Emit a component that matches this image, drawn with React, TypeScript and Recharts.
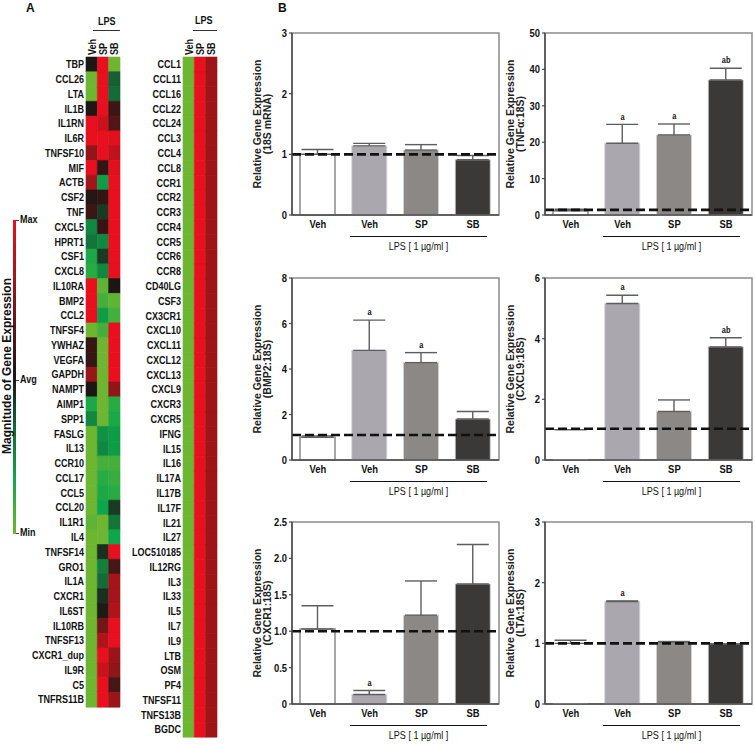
import React from 'react';
import {
  BarChart, Bar, XAxis, YAxis, Cell, ComposedChart, ErrorBar,
  ReferenceLine, ReferenceArea, Line, LabelList, Label,
} from 'recharts';

const SANS = '"Liberation Sans", Arial, Helvetica, sans-serif';
const SQUEEZE = 0.82;

// ---------------- Heatmap data (Min = -1, Avg = 0, Max = 1) ----------------
const heatColumns = ['Veh', 'SP', 'SB'];

const leftGenes = [
  'TBP', 'CCL26', 'LTA', 'IL1B', 'IL1RN', 'IL6R', 'TNFSF10', 'MIF', 'ACTB', 'CSF2',
  'TNF', 'CXCL5', 'HPRT1', 'CSF1', 'CXCL8', 'IL10RA', 'BMP2', 'CCL2', 'TNFSF4', 'YWHAZ',
  'VEGFA', 'GAPDH', 'NAMPT', 'AIMP1', 'SPP1', 'FASLG', 'IL13', 'CCR10', 'CCL17', 'CCL5',
  'CCL20', 'IL1R1', 'IL4', 'TNFSF14', 'GRO1', 'IL1A', 'CXCR1', 'IL6ST', 'IL10RB', 'TNFSF13',
  'CXCR1_dup', 'IL9R', 'C5', 'TNFRS11B',
];
const leftVeh = [
  0, -1, -1, 0.02, 1, 1, 0.55, 1, 0.65, 0.05,
  0.15, -0.5, -0.4, -0.7, -0.75, 1, 1, 1, -1, 0.12,
  0.12, 0.6, 0, -0.7, -0.5, -1, -1, -1, -1, -1,
  -1, -0.95, -1, -1, -1, -1, -1, -1, -1, -1,
  -1, -1, -1, -1,
];
const leftSP = [
  1, 1, 1, 1, 0.85, 1, 1, 0.1, -0.6, 0.1,
  -0.15, 0.12, -0.5, -0.15, -0.5, -0.95, -0.85, -0.6, -0.85, -1,
  -1, -1, -1, -1, -1, -0.55, -0.5, -0.85, -0.75, -0.7,
  -0.65, -1, -1, -0.1, -0.45, -0.35, -0.1, -0.02, 0.4, 0.7,
  1, 0.85, 1, 1,
];
const leftSB = [
  -1, -0.3, -0.35, 0.15, 0.25, 0.95, 0.8, 0.95, 1, 1,
  1, 1, 1, 1, 1, 0, -0.95, -0.85, 1, 1,
  1, 1, 0.55, -0.75, -0.7, -0.6, -0.6, -0.85, -0.8, -0.75,
  -0.15, -0.4, -0.65, 1, 0.2, 0.65, 0.65, 0.7, 1, 1,
  0.6, 0.55, 0.2, 0.6,
];

const rightGenes = [
  'CCL1', 'CCL11', 'CCL16', 'CCL22', 'CCL24', 'CCL3', 'CCL4', 'CCL8', 'CCR1', 'CCR2',
  'CCR3', 'CCR4', 'CCR5', 'CCR6', 'CCR8', 'CD40LG', 'CSF3', 'CX3CR1', 'CXCL10', 'CXCL11',
  'CXCL12', 'CXCL13', 'CXCL9', 'CXCR3', 'CXCR5', 'IFNG', 'IL15', 'IL16', 'IL17A', 'IL17B',
  'IL17F', 'IL21', 'IL27', 'LOC510185', 'IL12RG', 'IL3', 'IL33', 'IL5', 'IL7', 'IL9',
  'LTB', 'OSM', 'PF4', 'TNFSF11', 'TNFS13B', 'BGDC',
];
const rightVeh = [
  -1, -1, -1, -1, -1, -1, -1, -1, -1, -1,
  -1, -1, -1, -1, -1, -1, -1, -1, -1, -1,
  -1, -1, -1, -1, -1, -1, -1, -1, -1, -1,
  -1, -1, -1, -1, -1, -1, -1, -1, -1, -1,
  -1, -1, -1, -1, -1, -1,
];
const rightSP = [
  1, 1, 1, 1, 1, 1, 1, 1, 1, 1,
  1, 1, 1, 1, 1, 1, 1, 1, 1, 1,
  1, 1, 1, 1, 1, 1, 1, 1, 1, 1,
  1, 1, 1, 1, 1, 1, 1, 1, 1, 1,
  1, 1, 1, 1, 1, 1,
];
const rightSB = [
  0.62, 0.62, 0.62, 0.62, 0.62, 0.62, 0.62, 0.62, 0.62, 0.62,
  0.62, 0.62, 0.62, 0.62, 0.62, 0.62, 0.62, 0.62, 0.62, 0.62,
  0.62, 0.62, 0.62, 0.62, 0.62, 0.62, 0.62, 0.62, 0.62, 0.62,
  0.62, 0.62, 0.62, 0.62, 0.62, 0.62, 0.62, 0.62, 0.62, 0.62,
  0.62, 0.62, 0.62, 0.62, 0.62, 0.62,
];

// ---------------- Bar chart data ----------------
const barGroups = ['Veh', 'Veh', 'SP', 'SB'];
const barKeys = ['veh', 'lpsVeh', 'lpsSP', 'lpsSB'];
const barColors = ['#ffffff', '#aba7ae', '#8b8885', '#3b3937'];

const rnaMean = [1.0, 1.14, 1.07, 0.91];
const rnaErr = [0.08, 0.04, 0.09, 0.07];
const rnaSig = ['', '', '', ''];
const rnaBase = 1.0;
const rnaTicks = [0, 1, 2, 3];
const rnaTickLabels = ['0', '1', '2', '3'];

const tnfMean = [1.2, 19.7, 22.0, 37.1];
const tnfErr = [0.4, 5.2, 3.0, 3.2];
const tnfSig = ['', 'a', 'a', 'ab'];
const tnfBase = 1.4;
const tnfTicks = [0, 10, 20, 30, 40, 50];
const tnfTickLabels = ['0', '10', '20', '30', '40', '50'];

const bmpMean = [1.0, 4.82, 4.28, 1.8];
const bmpErr = [0.06, 1.33, 0.44, 0.33];
const bmpSig = ['', 'a', 'a', ''];
const bmpBase = 1.1;
const bmpTicks = [0, 2, 4, 6, 8];
const bmpTickLabels = ['0', '2', '4', '6', '8'];

const cxcl9Mean = [1.0, 5.16, 1.6, 3.73];
const cxcl9Err = [0, 0.27, 0.38, 0.3];
const cxcl9Sig = ['', 'a', '', 'ab'];
const cxcl9Base = 1.03;
const cxcl9Ticks = [0, 2, 4, 6];
const cxcl9TickLabels = ['0', '2', '4', '6'];

const cxcr1Mean = [1.03, 0.13, 1.22, 1.65];
const cxcr1Err = [0.32, 0.055, 0.47, 0.54];
const cxcr1Sig = ['', 'a', '', ''];
const cxcr1Base = 1.0;
const cxcr1Ticks = [0, 0.5, 1.0, 1.5, 2.0, 2.5];
const cxcr1TickLabels = ['0', '0.5', '1.0', '1.5', '2.0', '2.5'];

const ltaMean = [1.0, 1.69, 1.02, 0.99];
const ltaErr = [0.05, 0.01, 0.01, 0.0];
const ltaSig = ['', 'a', '', ''];
const ltaBase = 1.0;
const ltaTicks = [0, 1, 2, 3];
const ltaTickLabels = ['0', '1', '2', '3'];

// ---------------- Colour scale ----------------
const heatStops: [number, number[]][] = [
  [-1, [110, 182, 50]],
  [-0.65, [14, 166, 74]],
  [-0.3, [22, 96, 52]],
  [0, [28, 22, 20]],
  [0.5, [135, 22, 24]],
  [1, [232, 16, 30]],
];
function heatColor(v: number): string {
  for (let i = 0; i < heatStops.length - 1; i++) {
    const [a, ca] = heatStops[i];
    const [b, cb] = heatStops[i + 1];
    if (v >= a && v <= b) {
      const t = (v - a) / (b - a);
      const c = ca.map((x, k) => Math.round(x + (cb[k] - x) * t));
      return `rgb(${c[0]},${c[1]},${c[2]})`;
    }
  }
  return v < 0 ? 'rgb(110,182,50)' : 'rgb(232,16,30)';
}

// condensed SVG text
function CText(props: { x: number; y: number; anchor: string; size: number; dy?: string; children: any; weight?: number }) {
  const { x, y, anchor, size, dy, children, weight } = props;
  return (
    <text
      transform={`translate(${x},${y}) scale(${SQUEEZE},1)`}
      x={0}
      y={0}
      dy={dy || '0.35em'}
      textAnchor={anchor}
      fontFamily={SANS}
      fontWeight={weight === undefined ? 700 : weight}
      fontSize={size}
      fill="#111"
    >
      {children}
    </text>
  );
}

// ---------------- Heatmap ----------------
function ColTick(props: any) {
  const { x, y, payload } = props;
  const label = heatColumns[Math.floor(payload.value)];
  return (
    <text
      transform={`translate(${x},${y}) rotate(-90) scale(${SQUEEZE},1)`}
      x={0}
      y={0}
      dy="0.35em"
      textAnchor="start"
      fontFamily={SANS}
      fontWeight={700}
      fontSize={11}
      fill="#111"
    >
      {label}
    </text>
  );
}

function GeneTick(props: any) {
  const { x, y, payload } = props;
  return <CText x={x} y={y} anchor="end" size={11}>{payload.value}</CText>;
}

function Heatmap(props: {
  genes: string[]; veh: number[]; sp: number[]; sb: number[];
  left: number; labelWidth: number; height: number;
}) {
  const { genes, veh, sp, sb, left, labelWidth, height } = props;
  const data = genes.map((g) => ({ gene: g, cVeh: 1, cSP: 1, cSB: 1 }));
  const vals = [veh, sp, sb];
  const keys = ['cVeh', 'cSP', 'cSB'];
  return (
    <div style={{ position: 'absolute', left, top: 0 }}>
      <BarChart
        layout="vertical"
        width={labelWidth + 34 + 2}
        height={height}
        data={data}
        margin={{ top: 27, right: 2, bottom: 3, left: 0 }}
        barCategoryGap={0}
        barGap={0}
      >
        <XAxis
          type="number"
          orientation="top"
          domain={[0, 3]}
          ticks={[0.5, 1.5, 2.5]}
          interval={0}
          height={30}
          axisLine={false}
          tickLine={false}
          tickSize={0}
          tickMargin={2}
          tick={(p: any) => <ColTick {...p} />}
        />
        <YAxis
          type="category"
          dataKey="gene"
          width={labelWidth}
          interval={0}
          tickLine={false}
          axisLine={false}
          tickSize={0}
          tickMargin={2}
          tick={(p: any) => <GeneTick {...p} />}
        />
        {keys.map((k, j) => (
          <Bar key={k} dataKey={k} stackId="h" isAnimationActive={false}>
            {data.map((_, i) => (
              <Cell key={i} fill={heatColor(vals[j][i])} stroke={heatColor(vals[j][i])} strokeWidth={0.6} />
            ))}
          </Bar>
        ))}
      </BarChart>
    </div>
  );
}

// ---------------- Bar panels ----------------
function GenePanel(props: {
  plotLeft: number; plotTop: number; mean: number[]; err: number[]; sig: string[];
  base: number; ticks: number[]; tickLabels: string[]; yLabel: string; vehStroke: boolean;
}) {
  const { plotLeft, plotTop, mean, err, sig, base, ticks, tickLabels, yLabel, vehStroke } = props;
  const data = barKeys.map((k, i) => ({
    key: k, mean: mean[i], err: [0, err[i]], top: mean[i] + err[i], sig: sig[i],
  }));
  const max = ticks[ticks.length - 1];
  const yCenter = 13 + 91;
  return (
    <div style={{ position: 'absolute', left: plotLeft - 52, top: plotTop - 13, width: 262, height: 250 }}>
      <ComposedChart
        width={262}
        height={215}
        data={data}
        margin={{ top: 13, right: 3, bottom: 0, left: 0 }}
      >
        <ReferenceArea y1={0} y2={max} fill="none" stroke="#8c8c8c" strokeWidth={1.5} ifOverflow="visible" />
        <XAxis
          dataKey="key"
          height={20}
          interval={0}
          tickLine={false}
          tickSize={0}
          tickMargin={5}
          axisLine={{ stroke: '#4a4a4a', strokeWidth: 1.5 }}
          tick={(p: any) => (
            <CText x={p.x} y={p.y} anchor="middle" size={11.5} dy="0.71em">{barGroups[p.index]}</CText>
          )}
        />
        <YAxis
          type="number"
          domain={[0, max]}
          ticks={ticks}
          interval={0}
          width={52}
          tickSize={3}
          tickMargin={2}
          axisLine={{ stroke: '#4a4a4a', strokeWidth: 1.5 }}
          tickLine={{ stroke: '#4a4a4a', strokeWidth: 1.2 }}
          tick={(p: any) => (
            <CText x={p.x} y={p.y} anchor="end" size={11.5}>{tickLabels[ticks.indexOf(p.payload.value)]}</CText>
          )}
        >
          <Label
            content={() => (
              <text
                transform={`rotate(-90 21 ${yCenter})`}
                x={21}
                y={yCenter}
                textAnchor="middle"
                fontFamily={SANS}
                fontWeight={700}
                fontSize={10.5}
                fill="#222"
              >
                <tspan x={21} dy={0}>Relative Gene Expression</tspan>
                <tspan x={21} dy={10}>{yLabel}</tspan>
              </text>
            )}
          />
        </YAxis>
        <Bar dataKey="mean" barSize={35} isAnimationActive={false}>
          {data.map((_, i) => (
            <Cell
              key={i}
              fill={barColors[i]}
              stroke={i === 0 ? (vehStroke ? '#8a8a8a' : 'none') : '#d6d4d6'}
              strokeWidth={i === 0 ? 1.5 : 0.8}
            />
          ))}
          <ErrorBar dataKey="err" width={16} stroke="#5e5e5e" strokeWidth={1.4} direction="y" />
        </Bar>
        <Line dataKey="top" stroke="none" dot={false} activeDot={false} isAnimationActive={false}>
          <LabelList
            dataKey="sig"
            position="top"
            offset={5}
            content={(p: any) =>
              p.value ? (
                <CText x={p.x} y={p.y - 8} anchor="middle" size={9}>{p.value}</CText>
              ) : null
            }
          />
        </Line>
        <ReferenceLine y={base} stroke="#111" strokeWidth={2.6} strokeDasharray="9 4" ifOverflow="visible" />
      </ComposedChart>
      <div
        style={{
          position: 'absolute', left: 52 + 58, top: 13 + 182 + 21, width: 137,
          borderTop: '1.3px solid #111',
        }}
      />
      <div
        style={{
          position: 'absolute', left: 52 + 58, top: 13 + 182 + 25, width: 137,
          textAlign: 'center', fontFamily: SANS, fontSize: 11, color: '#111', lineHeight: '12px',
          transform: `scaleX(${SQUEEZE})`,
        }}
      >
        LPS [ 1 µg/ml ]
      </div>
    </div>
  );
}

// ---------------- App ----------------
export default function App() {
  const colLeft = [292, 545];
  const rowTop = [33, 278, 522];
  const small = { position: 'absolute' as const, fontFamily: SANS, fontWeight: 700, fontSize: 11, color: '#111', transform: `scaleX(${SQUEEZE})`, transformOrigin: 'left center' };
  return (
    <div
      style={{
        position: 'absolute', left: 0, top: 0, width: 755, height: 744,
        background: '#ffffff', fontFamily: SANS, overflow: 'hidden',
      }}
    >
      {/* Panel letters */}
      <div style={{ position: 'absolute', left: 26, top: 1, fontSize: 12, fontWeight: 700, color: '#111' }}>A</div>
      <div style={{ position: 'absolute', left: 278, top: 1, fontSize: 12, fontWeight: 700, color: '#111' }}>B</div>

      {/* Heatmaps */}
      <Heatmap genes={leftGenes} veh={leftVeh} sp={leftSP} sb={leftSB} left={0} labelWidth={86} height={710} />
      <Heatmap genes={rightGenes} veh={rightVeh} sp={rightSP} sb={rightSB} left={127} labelWidth={56} height={740} />

      {/* LPS headers over heatmaps */}
      <div style={{ ...small, left: 98, top: 15 }}>LPS</div>
      <div style={{ position: 'absolute', left: 93, top: 30, width: 27, borderTop: '1.2px solid #333' }} />
      <div style={{ ...small, left: 195, top: 14 }}>LPS</div>
      <div style={{ position: 'absolute', left: 193, top: 30, width: 24, borderTop: '1.2px solid #333' }} />

      {/* Colour legend */}
      <div
        style={{
          position: 'absolute', left: 13, top: 220, width: 3, height: 314,
          background: 'linear-gradient(to bottom, rgb(232,16,30) 0%, rgb(135,22,24) 25%, rgb(28,22,20) 50%, rgb(22,96,52) 65%, rgb(14,166,74) 82%, rgb(110,182,50) 100%)',
        }}
      />
      <div style={{ position: 'absolute', left: 16, top: 220, width: 3, borderTop: '1px solid #444' }} />
      <div style={{ position: 'absolute', left: 16, top: 380, width: 3, borderTop: '1px solid #444' }} />
      <div style={{ position: 'absolute', left: 16, top: 533, width: 3, borderTop: '1px solid #444' }} />
      <div style={{ ...small, left: 20, top: 213 }}>Max</div>
      <div style={{ ...small, left: 20, top: 373 }}>Avg</div>
      <div style={{ ...small, left: 20, top: 526 }}>Min</div>
      <div style={{ position: 'absolute', left: 7, top: 366, width: 0, height: 0 }}>
        <div
          style={{
            position: 'absolute', left: -110, top: -7, width: 220, textAlign: 'center',
            transform: 'rotate(-90deg)', fontWeight: 700, fontSize: 12, color: '#111', whiteSpace: 'nowrap',
            lineHeight: '14px',
          }}
        >
          Magnitude of Gene Expression
        </div>
      </div>

      {/* Bar panels */}
      <GenePanel plotLeft={colLeft[0]} plotTop={rowTop[0]} mean={rnaMean} err={rnaErr} sig={rnaSig} base={rnaBase}
        ticks={rnaTicks} tickLabels={rnaTickLabels} yLabel="(18S mRNA)" vehStroke={true} />
      <GenePanel plotLeft={colLeft[1]} plotTop={rowTop[0]} mean={tnfMean} err={tnfErr} sig={tnfSig} base={tnfBase}
        ticks={tnfTicks} tickLabels={tnfTickLabels} yLabel="(TNFα:18S)" vehStroke={true} />
      <GenePanel plotLeft={colLeft[0]} plotTop={rowTop[1]} mean={bmpMean} err={bmpErr} sig={bmpSig} base={bmpBase}
        ticks={bmpTicks} tickLabels={bmpTickLabels} yLabel="(BMP2:18S)" vehStroke={true} />
      <GenePanel plotLeft={colLeft[1]} plotTop={rowTop[1]} mean={cxcl9Mean} err={cxcl9Err} sig={cxcl9Sig} base={cxcl9Base}
        ticks={cxcl9Ticks} tickLabels={cxcl9TickLabels} yLabel="(CXCL9:18S)" vehStroke={false} />
      <GenePanel plotLeft={colLeft[0]} plotTop={rowTop[2]} mean={cxcr1Mean} err={cxcr1Err} sig={cxcr1Sig} base={cxcr1Base}
        ticks={cxcr1Ticks} tickLabels={cxcr1TickLabels} yLabel="(CXCR1:18S)" vehStroke={true} />
      <GenePanel plotLeft={colLeft[1]} plotTop={rowTop[2]} mean={ltaMean} err={ltaErr} sig={ltaSig} base={ltaBase}
        ticks={ltaTicks} tickLabels={ltaTickLabels} yLabel="(LTA:18S)" vehStroke={false} />
    </div>
  );
}
